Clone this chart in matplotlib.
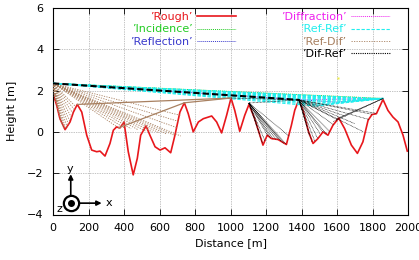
import numpy as np
import matplotlib
matplotlib.use("Agg")
import matplotlib.pyplot as plt
from matplotlib.lines import Line2D

# terrain profile ('Rough')
rough_d = [0, 21, 39, 68, 96, 115, 137, 162, 190, 218, 246, 265, 293, 321, 340, 358,
           377, 400, 424, 452, 475, 494, 524, 546, 575, 603, 631, 663, 687, 715, 740,
           762, 790, 819, 847, 894, 922, 950, 978, 1003, 1024, 1052, 1080, 1104, 1136,
           1183, 1207, 1230, 1268, 1315, 1343, 1362, 1385, 1410, 1440, 1465, 1493, 1521,
           1549, 1577, 1610, 1643, 1681, 1715, 1746, 1775, 1797, 1822, 1859, 1887, 1915,
           1944, 1972, 1996]
rough_h = [1.88, 1.28, 0.64, 0.11, 0.48, 0.96, 1.33, 0.96, -0.16, -0.88, -0.96, -0.93,
           -1.17, -0.56, 0.08, 0.24, 0.19, 0.48, -0.96, -2.08, -1.28, -0.16, 0.29, -0.16,
           -0.72, -0.88, -0.77, -1.01, -0.16, 0.96, 1.41, 0.88, 0.0, 0.48, 0.64, 0.77,
           0.48, -0.05, 0.8, 1.64, 1.04, 0.03, 0.8, 1.33, 0.64, -0.64, -0.16, -0.32,
           -0.37, -0.61, 0.32, 1.05, 1.55, 1.0, 0.0, -0.56, -0.32, 0.0, -0.16, 0.32,
           0.67, 0.16, -0.64, -1.04, -0.48, 0.56, 0.84, 0.88, 1.57, 1.04, 0.72, 0.48,
           -0.16, -0.93]

tx = (0, 2.35)
rx = (1860, 1.62)
peak_a = (137, 1.33)
peak_b = (740, 1.41)
peak_c = (1003, 1.64)
peak_d = (1104, 1.40)
peak_e = (1385, 1.55)

# Ref-Dif: transmitter to left valley, and over first peak
refdif_a_d = [8, 16, 24, 32, 40, 48, 56, 64, 72, 80, 88, 96, 104, 112, 120, 128]
refdif_a_h = [1.6, 1.4, 1.15, 0.9, 0.62, 0.4, 0.22, 0.12, 0.12, 0.22, 0.35, 0.5,
              0.7, 0.9, 1.08, 1.22]
refdif_b_d = [360, 400, 440, 480, 520, 560, 600, 640, 680, 720, 700, 710, 718]
refdif_b_h = [0.25, 0.2, 0.15, 0.1, 0.05, 0.0, -0.05, -0.1, -0.15, -0.2, 0.2, 0.5, 0.8]

# Ref-Ref: transmitter -> reflection point -> receiver
refref_d = [1480, 1510, 1540, 1570, 1600, 1630, 1660, 1690, 1720, 1750, 1790, 1820]
refref_h = [1.25, 1.3, 1.35, 1.4, 1.44, 1.48, 1.52, 1.55, 1.57, 1.6, 1.61, 1.62]

# Dif-Ref: diffracted at peaks, then reflected
difref_a_d = [1150, 1165, 1180, 1195, 1210, 1225, 1240, 1255, 1270, 1285, 1300, 1315, 1330]
difref_a_h = [0.3, -0.1, -0.55, -0.45, -0.2, -0.28, -0.35, -0.36, -0.38, -0.45, -0.55,
              -0.6, -0.2]
difref_b_d = [1400, 1415, 1430, 1445, 1460, 1475, 1490, 1505, 1520, 1540, 1560, 1580,
              1600, 1650, 1700, 1750, 1780, 1800, 1820]
difref_b_h = [1.2, 0.8, 0.3, -0.2, -0.5, -0.45, -0.3, -0.1, 0.0, -0.1, 0.0, 0.35, 0.6,
              0.75, 0.4, 0.0, 0.6, 0.85, 0.9]
difref_c_d = [1580, 1595, 1605]
difref_c_h = [0.5, 0.6, 0.66]

c_red = "#e8171c"
c_green = "#22cc22"
c_blue = "#3a3acc"
c_mag = "#ee22ee"
c_cyan = "#22eeee"
c_brown = "#a88060"

plt.rcParams["font.family"] = "DejaVu Sans"
fig = plt.figure(figsize=(4.19, 2.6), dpi=100)
ax = fig.add_axes([53 / 419, 45.5 / 260, 355 / 419, 206.5 / 260])


def seg(p, q, **kw):
    return ax.plot([p[0], q[0]], [p[1], q[1]], **kw)[0]


h_rough, = ax.plot(rough_d, rough_h, color=c_red, lw=1.2, zorder=2)
h_inc = seg(tx, rx, color=c_green, lw=0.7, ls=(0, (1, 1)), zorder=2)
h_ref = seg(tx, (1600, 1.44), color=c_blue, lw=0.7, ls=(0, (1, 1)), zorder=2)
seg((1600, 1.44), rx, color=c_blue, lw=0.7, ls=(0, (1, 1)), zorder=2)
h_dif = seg(tx, peak_e, color=c_mag, lw=0.7, ls=(0, (1, 1)), zorder=2)
seg(peak_e, rx, color=c_mag, lw=0.7, ls=(0, (1, 1)), zorder=2)

cy_kw = dict(color=c_cyan, lw=0.8, ls=(0, (3, 1.5)), zorder=3)
for d, h in zip(refref_d, refref_h):
    h_rr = seg(tx, (d, h), **cy_kw)
    seg((d, h), rx, **cy_kw)

br_kw = dict(color=c_brown, lw=0.6, ls=(0, (1.5, 1.5)), zorder=4)
for d, h in zip(refdif_a_d, refdif_a_h):
    h_rd = seg(tx, (d, h), **br_kw)
for d, h in zip(refdif_b_d, refdif_b_h):
    seg(tx, (d, h), **br_kw)
sol_kw = dict(color=c_brown, lw=0.9, zorder=4)
seg(peak_a, peak_c, **sol_kw)
seg((370, 0.2), peak_b, **sol_kw)
seg(peak_b, peak_c, **sol_kw)

bk_kw = dict(color="black", lw=0.5, ls=(0, (1, 1)), zorder=5)
seg(tx, peak_e, color="black", lw=1.5, ls=(0, (3, 1.5)), zorder=5)
seg(peak_c, peak_e, **bk_kw)
seg(peak_d, peak_e, **bk_kw)
for d, h in zip(difref_a_d, difref_a_h):
    seg(peak_d, (d, h), **bk_kw)
for d, h in zip(difref_b_d, difref_b_h):
    seg(peak_e, (d, h), **bk_kw)
for d, h in zip(difref_c_d, difref_c_h):
    seg((d, h), rx, **bk_kw)
h_dr = Line2D([], [], color="black", lw=0.8, ls=(0, (1, 1)))

ax.plot([1606], [2.62], marker="s", ms=1.5, color="#eeee44", mec="none", zorder=5)

# coordinate indicator
ox, oy = 100, -3.45
ax.annotate("", xy=(274, oy), xytext=(ox, oy),
            arrowprops=dict(arrowstyle="-|>", color="black", lw=1.2, mutation_scale=7,
                            shrinkA=0, shrinkB=0), zorder=6)
ax.annotate("", xy=(ox, -2.05), xytext=(ox, oy),
            arrowprops=dict(arrowstyle="-|>", color="black", lw=1.2, mutation_scale=7,
                            shrinkA=0, shrinkB=0), zorder=6)
ax.plot([ox], [oy], marker="o", ms=11, mfc="white", mec="black", mew=1.6, zorder=7)
ax.plot([ox], [oy], marker="o", ms=4, color="black", zorder=8)
ax.text(315, oy, "x", fontsize=8, ha="center", va="center")
ax.text(98, -1.82, "y", fontsize=8, ha="center", va="center")
ax.text(38, -3.72, "z", fontsize=8, ha="center", va="center")

ax.set_xlim(0, 2000)
ax.set_ylim(-4, 6)
ax.set_xticks(range(0, 2001, 200))
ax.set_yticks(range(-4, 7, 2))
ax.tick_params(direction="in", length=4, width=0.6, labelsize=8, top=True, right=True)
ax.tick_params(axis="y", pad=7)
ax.tick_params(axis="x", pad=6)
ax.grid(True, color="#888888", lw=0.5, ls=(0, (1, 1.5)))
for s in ax.spines.values():
    s.set_linewidth(0.8)
ax.set_xlabel("Distance [m]", fontsize=8, labelpad=4)
ax.set_ylabel("Height [m]", fontsize=8, labelpad=7)

leg_kw = dict(frameon=False, markerfirst=False, fontsize=8, handlelength=3.5,
              handletextpad=0.4, labelspacing=0.22, borderpad=0, borderaxespad=0,
              loc="upper right", bbox_transform=fig.transFigure)
leg1 = ax.legend([h_rough, h_inc, h_ref], ["’Rough’", "’Incidence’", "’Reflection’"],
                 bbox_to_anchor=(236 / 419, 248 / 260),
                 labelcolor=[c_red, c_green, c_blue], **leg_kw)
ax.add_artist(leg1)
ax.legend([h_dif, h_rr, h_rd, h_dr], ["’Diffraction’", "’Ref-Ref’", "’Ref-Dif’", "’Dif-Ref’"],
          bbox_to_anchor=(390 / 419, 248 / 260),
          labelcolor=[c_mag, c_cyan, c_brown, "black"], **leg_kw)

fig.savefig("out.png", dpi=100)
